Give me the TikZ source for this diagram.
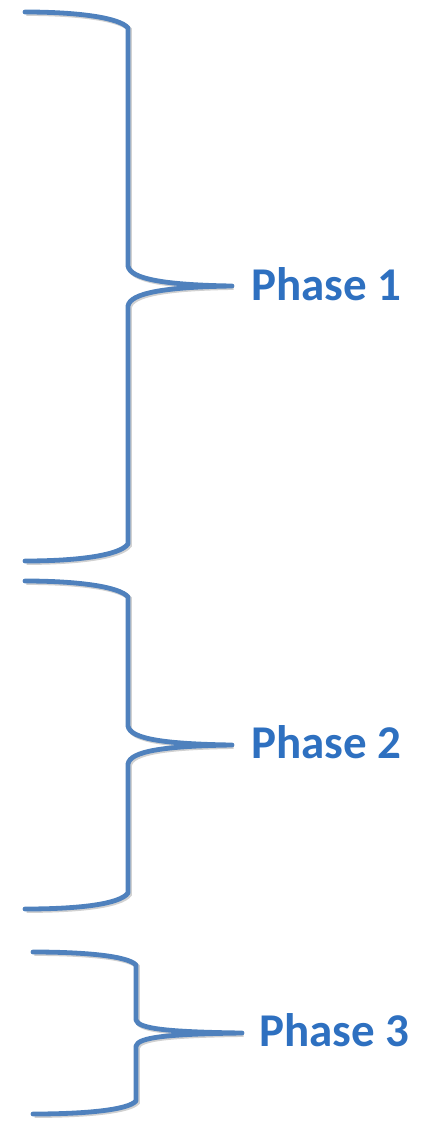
\documentclass[tikz,border=0pt]{standalone}
\usepackage{fontspec}
\setmainfont{Carlito}
\definecolor{bracecol}{RGB}{79,129,189}
\definecolor{labelcol}{RGB}{46,112,192}
\tikzset{
  bracestroke/.style={draw=bracecol, line width=4.8pt, line cap=round, line join=round,
    preaction={draw=black!30, opacity=0.6, line width=4.8pt,
      transform canvas={shift={(1.5pt,-1.5pt)}}}},
  phaselabel/.style={anchor=base west, inner sep=0pt, text=labelcol,
    font=\fontsize{47}{52}\selectfont\bfseries}
}
\begin{document}
\begin{tikzpicture}[x=1pt, y=-1pt]
  \useasboundingbox (0,0) rectangle (423,1124);

  % brace tips
  \coordinate (t1) at (232,286);
  \coordinate (t2) at (232,745);
  \coordinate (t3) at (242,1033);

  % labels
  \node[phaselabel] (p1) at (251,300) {Phase 1};
  \node[phaselabel] (p2) at (251,758) {Phase 2};
  \node[phaselabel] (p3) at (259,1046) {Phase 3};

  % brace for phase 1
  \draw[bracestroke] (25,12) .. controls (80,12) and (120,18) .. (128,28)
     -- (128,266) .. controls (130,279) and (165,285) .. (t1)
     .. controls (165,287) and (130,293) .. (128,306)
     -- (128,544) .. controls (120,555) and (80,561) .. (25,561);

  % brace for phase 2
  \draw[bracestroke] (25,581) .. controls (80,581) and (120,587) .. (128,597)
     -- (128,726) .. controls (130,739) and (165,744) .. (t2)
     .. controls (165,746) and (130,751) .. (128,764)
     -- (128,893) .. controls (120,904) and (80,909) .. (25,909);

  % brace for phase 3
  \draw[bracestroke] (33,952) .. controls (85,952) and (128,956) .. (136,965)
     -- (136,1020) .. controls (138,1029) and (170,1032) .. (t3)
     .. controls (170,1034) and (138,1037) .. (136,1046)
     -- (136,1101) .. controls (128,1110) and (85,1114) .. (33,1114);
\end{tikzpicture}
\end{document}
